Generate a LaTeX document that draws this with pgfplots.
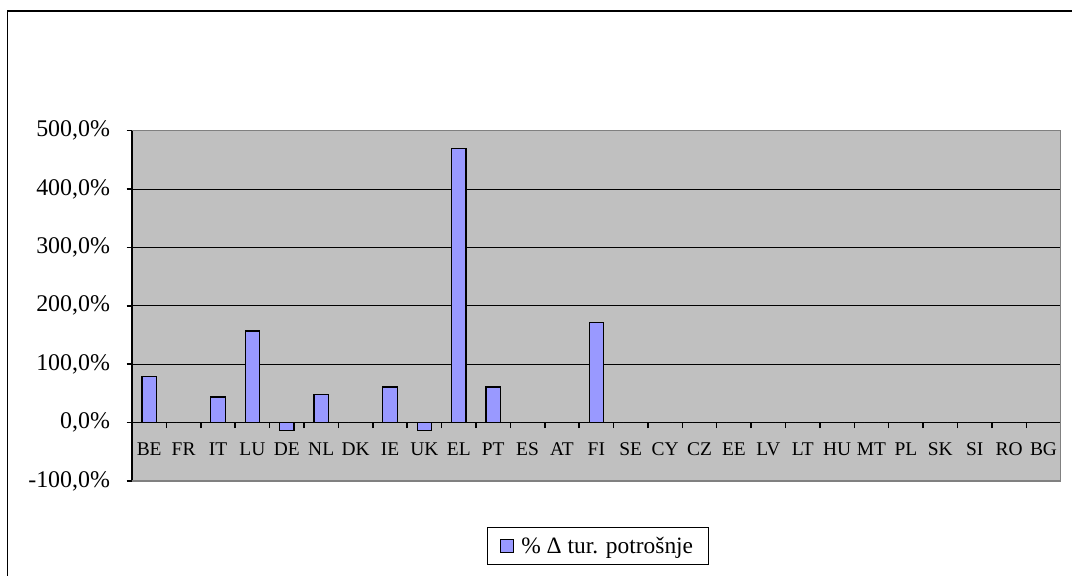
\documentclass[border=0pt]{standalone}
\usepackage{fontspec}
\setmainfont{Liberation Serif}
\usepackage{pgfplots}
\pgfplotsset{compat=1.18}
\definecolor{barblue}{HTML}{9999FF}
\definecolor{plotgray}{HTML}{C0C0C0}
\definecolor{framegray}{HTML}{808080}
\begin{document}
\begin{tikzpicture}[x=1bp,y=1bp]
\useasboundingbox (0,0) rectangle (1072,576);
\draw[line width=1.5bp] (7.5,0) -- (7.5,565) -- (1072,565);
\begin{axis}[
  at={(132bp,95bp)}, anchor=south west,
  scale only axis, width=928.7bp, height=350.3bp,
  xmin=-0.5, xmax=26.5, ymin=-100, ymax=500,
  axis x line*=middle, axis y line*=left,
  axis line style={black, line width=1.3bp},
  axis background/.style={fill=plotgray},
  ybar, bar width=14.4bp,
  ytick={-100,0,100,200,300,400,500},
  yticklabels={{-100,0\%},{0,0\%},{100,0\%},{200,0\%},{300,0\%},{400,0\%},{500,0\%}},
  xtick={-0.5,0.5,1.5,2.5,3.5,4.5,5.5,6.5,7.5,8.5,9.5,10.5,11.5,12.5,13.5,14.5,15.5,16.5,17.5,18.5,19.5,20.5,21.5,22.5,23.5,24.5,25.5,26.5},
  x tick label as interval,
  hide obscured x ticks=false,
  xticklabels={BE,FR,IT,LU,DE,NL,DK,IE,UK,EL,PT,ES,AT,FI,SE,CY,CZ,EE,LV,LT,HU,MT,PL,SK,SI,RO,BG},
  xtick align=outside, ytick align=outside,
  major tick length=5.5bp,
  every tick/.style={black, line width=1.5bp},
  ymajorgrids, grid style={black, line width=1bp},
  yticklabel style={font=\fontsize{24}{28}\selectfont, xshift=-13bp},
  xticklabel style={font=\fontsize{19.5}{23}\selectfont, yshift=-11bp},
  legend style={at={(0.5015,-0.1856)}, anchor=center, draw=black, line width=1bp,
    font=\fontsize{23.5}{27}\selectfont, inner xsep=13bp, inner ysep=8bp,
    nodes={inner sep=2bp}, cells={anchor=west},
    /tikz/every odd column/.append style={column sep=5bp}},
  clip=false,
]
\addplot[fill=barblue, draw=black, line width=1.2bp, bar shift=0pt,
  legend image code/.code={\draw[fill=barblue, draw=black, line width=1bp] (0bp,-6.5bp) rectangle (13bp,6.5bp);}]
  coordinates {(0,79) (1,0) (2,44) (3,157) (4,-14) (5,48) (6,0) (7,61) (8,-14) (9,469) (10,61) (11,0) (12,0) (13,171) (14,0) (15,0) (16,0) (17,0) (18,0) (19,0) (20,0) (21,0) (22,0) (23,0) (24,0) (25,0) (26,0)};
\addlegendentry{\% Δ tur. potrošnje}
\draw[framegray, line width=1.2bp] (rel axis cs:0,1) -- (rel axis cs:1,1) -- (rel axis cs:1,0) -- (rel axis cs:0,0);
\end{axis}
\end{tikzpicture}
\end{document}
